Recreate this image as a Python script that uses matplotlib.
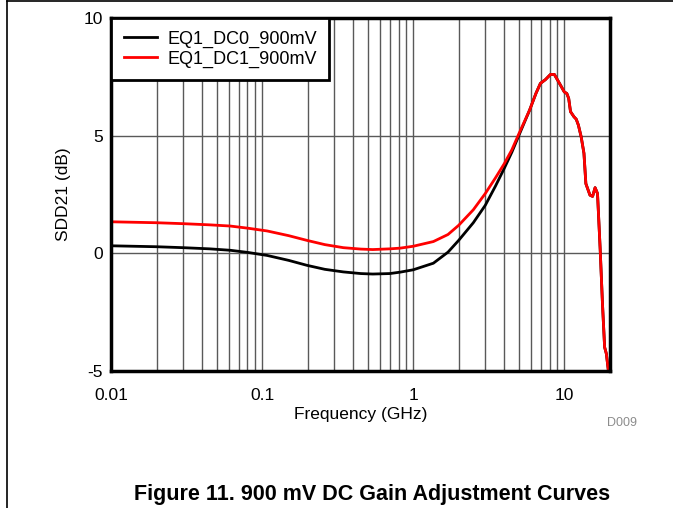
import matplotlib.pyplot as plt
import numpy as np
from matplotlib.lines import Line2D
from matplotlib.ticker import LogLocator, NullFormatter

plt.rcParams['font.family'] = ['Liberation Sans', 'DejaVu Sans']
plt.rcParams['axes.unicode_minus'] = False

# frequency (GHz) and gain (dB)
freq_dc0 = [0.01, 0.02, 0.03, 0.045, 0.0614, 0.08, 0.108, 0.15, 0.198, 0.26, 0.345,
            0.45, 0.54, 0.7, 0.82, 1.0, 1.36, 1.7, 2.0, 2.5, 3.0, 3.5, 4.0, 4.5, 5.0,
            5.9, 6.5, 6.95, 7.5, 8.1, 8.6, 9.3, 10.0, 10.4, 10.7, 11.0,
            11.6, 12.0, 12.4, 12.94, 13.5, 13.9, 14.8, 15.4, 16.0, 16.6, 17.3,
            17.9, 18.5, 19.0, 19.6]
gain_dc0 = [0.32, 0.28, 0.24, 0.19, 0.13, 0.04, -0.09, -0.3, -0.51, -0.68, -0.79,
            -0.86, -0.88, -0.86, -0.8, -0.7, -0.42, 0.05, 0.55, 1.3, 2.04, 2.85, 3.6, 4.3, 5.0,
            6.09, 6.8, 7.22, 7.38, 7.6, 7.6, 7.22, 6.86, 6.79, 6.58, 6.02,
            5.8, 5.7, 5.45, 4.95, 4.25, 2.96, 2.47, 2.42, 2.79, 2.54, 0.13,
            -2.13, -3.99, -4.27, -5.0]

freq_dc1 = [0.01, 0.02, 0.03, 0.045, 0.0614, 0.08, 0.108, 0.15, 0.198, 0.26, 0.345,
            0.45, 0.54, 0.7, 0.82, 1.0, 1.36, 1.7, 2.0, 2.5, 3.0, 3.5, 4.0, 4.5, 5.0,
            5.9, 6.5, 6.95, 7.5, 8.1, 8.6, 9.3, 10.0, 10.4, 10.7, 11.0,
            11.6, 12.0, 12.4, 12.94, 13.5, 13.9, 14.8, 15.4, 16.0, 16.6, 17.3,
            17.9, 18.5, 19.0, 19.6]
gain_dc1 = [1.34, 1.3, 1.26, 1.21, 1.16, 1.07, 0.95, 0.75, 0.55, 0.37, 0.24,
            0.18, 0.16, 0.19, 0.22, 0.3, 0.5, 0.8, 1.19, 1.85, 2.54, 3.2, 3.8, 4.4, 5.07,
            6.09, 6.8, 7.22, 7.38, 7.6, 7.6, 7.22, 6.86, 6.79, 6.58, 6.02,
            5.8, 5.7, 5.45, 4.95, 4.25, 2.96, 2.47, 2.42, 2.79, 2.54, 0.13,
            -2.13, -3.99, -4.27, -5.0]

x_ticks = [0.01, 0.1, 1, 10]
x_labels = ["0.01", "0.1", "1", "10"]
y_ticks = [-5, 0, 5, 10]

fig = plt.figure(figsize=(6.73, 5.08), dpi=100)
ax = fig.add_axes([0.165, 0.2697, 0.741, 0.6949])

ax.plot(freq_dc0, gain_dc0, c="black", lw=2, label="EQ1_DC0_900mV")
ax.plot(freq_dc1, gain_dc1, c="red", lw=2, label="EQ1_DC1_900mV")

ax.set_xscale("log")
ax.set_xlim(0.01, 20)
ax.set_ylim(-5, 10)
ax.set_xticks(x_ticks)
ax.set_xticklabels(x_labels)
ax.xaxis.set_minor_locator(LogLocator(base=10, subs=np.arange(2, 10)))
ax.xaxis.set_minor_formatter(NullFormatter())
ax.set_yticks(y_ticks)
ax.tick_params(which="both", length=0, labelsize=12.5)
ax.tick_params(axis="x", pad=12)
ax.tick_params(axis="y", pad=6)
ax.grid(True, which="both", axis="x", color="0.35", lw=1)
ax.grid(True, which="major", axis="y", color="0.35", lw=1)
for s in ax.spines.values():
    s.set_linewidth(2.5)

ax.set_xlabel("Frequency (GHz)", fontsize=12.5, labelpad=3)
ax.set_ylabel("SDD21 (dB)", fontsize=12.5, labelpad=9)

leg = ax.legend(loc="upper left", fontsize=13, fancybox=False, framealpha=1,
                borderaxespad=0, handlelength=1.85, borderpad=0.7, labelspacing=0.15,
                handletextpad=0.55)
leg.get_frame().set_edgecolor("black")
leg.get_frame().set_linewidth(2)

fig.text(0.947, 0.167, "D009", fontsize=9, color="0.55", ha="right", va="center")
fig.text(0.553, 0.027, "Figure 11. 900 mV DC Gain Adjustment Curves", fontsize=15.5,
         fontweight="bold", ha="center", va="center")

fig.add_artist(Line2D([0.011, 0.011], [0, 0.998], color="black", lw=1.2))
fig.add_artist(Line2D([0.011, 1], [0.998, 0.998], color="black", lw=1.2))

fig.savefig("out.png", dpi=100)
